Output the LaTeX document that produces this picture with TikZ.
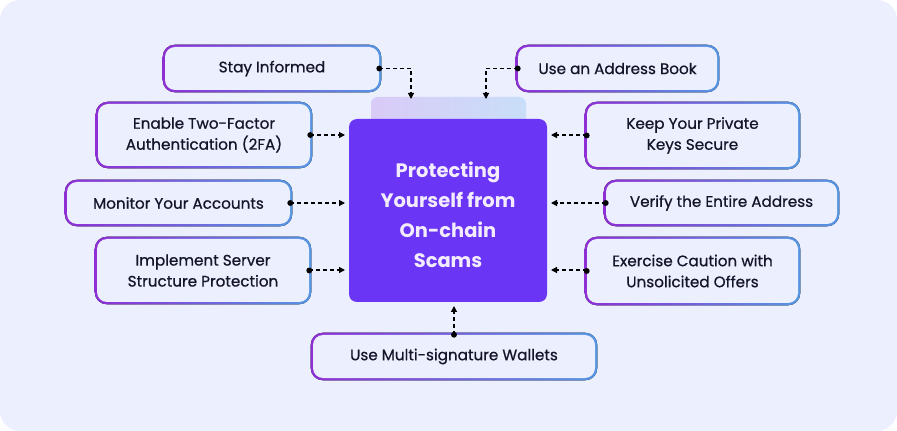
\documentclass[tikz,border=0pt]{standalone}
\usepackage{fontspec}
\setmainfont{Poppins}[FakeBold=0.7]
\newfontfamily\corefont{Poppins}
\usetikzlibrary{arrows.meta,backgrounds}
\definecolor{bg}{HTML}{ECEFFD}
\definecolor{txt}{HTML}{14142A}
\definecolor{core}{HTML}{6A35F4}
\definecolor{gp}{HTML}{8E2FD6}
\definecolor{gb}{HTML}{5596E2}
\definecolor{tabl}{HTML}{D9CBF7}
\definecolor{tabr}{HTML}{C9DEF8}
\definecolor{coretxt}{HTML}{F3ECFF}
\newcommand\gframe[1]{\fill[left color=gp,right color=gb,rounded corners=9pt] ([shift={(-1.5pt,-1.5pt)}]#1.south west) rectangle ([shift={(1.5pt,1.5pt)}]#1.north east);}
\begin{document}
\begin{tikzpicture}[x=0.75pt,y=-0.75pt,
  item/.style={fill=bg,rounded corners=7.5pt,align=center,text=txt,
    font=\fontsize{11.4}{15.75}\selectfont,inner sep=0pt},
  conn/.style={line width=0.9pt,dash pattern=on 3pt off 2.2pt,-{Triangle[length=4.5pt,width=4.5pt]}},
  dot/.style={fill=black}]
\useasboundingbox (0,0) rectangle (897,431);
% tab behind core
\node[rounded corners=5pt,left color=tabl,right color=tabr,minimum width=116.25pt,minimum height=30pt,inner sep=0pt] (tab) at (448.5,117) {};
\node[fill=core,rounded corners=6pt,minimum width=148.5pt,minimum height=137.25pt,inner sep=0pt] (core) at (448,210.5) {};
\node[align=center,text=coretxt,inner sep=0pt,font=\corefont\fontsize{14.6}{22.5}\selectfont\bfseries] (coretext) at (448,215) {Protecting\\Yourself from\\On-chain\\Scams};
% items
\node[item,minimum width=160.5pt,minimum height=32.25pt] (si) at (272,68.5) {Stay Informed};
\node[item,minimum width=149.25pt,minimum height=32.25pt] (ab) at (617.5,68.5) {Use an Address Book};
\node[item,minimum width=159pt,minimum height=46.5pt] (tf) at (204,135) {Enable Two-Factor\\Authentication (2FA)};
\node[item,minimum width=158.25pt,minimum height=47.25pt] (kp) at (692.5,135.5) {Keep Your Private\\Keys Secure};
\node[item,minimum width=167.25pt,minimum height=31.5pt] (ma) at (178.5,203) {Monitor Your Accounts};
\node[item,minimum width=173.25pt,minimum height=31.5pt] (va) at (721.5,203) {Verify the Entire Address};
\node[item,minimum width=159pt,minimum height=47.25pt] (is) at (203,270.5) {Implement Server\\Structure Protection};
\node[item,minimum width=158.25pt,minimum height=48pt] (ec) at (692.5,271) {Exercise Caution with\\Unsolicited Offers};
\node[item,minimum width=211.5pt,minimum height=32.25pt] (mw) at (454,356.5) {Use Multi-signature Wallets};
% connector targets
\coordinate (t1) at (411,99);
\coordinate (t2) at (486,99);
\coordinate (l1) at (345,135);
\coordinate (l2) at (345,203);
\coordinate (l3) at (345,270);
\coordinate (r1) at (551,135);
\coordinate (r2) at (551,203);
\coordinate (r3) at (551,270);
\coordinate (b1) at (454,306);
\draw[conn] (si.east) -| (t1);
\draw[conn] (ab.west) -| (t2);
\draw[conn] (tf.east |- l1) -- (l1);
\draw[conn] (ma.east |- l2) -- (l2);
\draw[conn] (is.east |- l3) -- (l3);
\draw[conn] (kp.west |- r1) -- (r1);
\draw[conn] (va.west |- r2) -- (r2);
\draw[conn] (ec.west |- r3) -- (r3);
\draw[conn] (mw.north -| b1) -- (b1);
\foreach \p in {si.east,ab.west,tf.east,ma.east,is.east,kp.west,va.west,ec.west,mw.north}
  \fill[dot] (\p) circle (2.2pt);
\begin{scope}[on background layer]
  \fill[white] (0,0) rectangle (897,431);
  \fill[bg,rounded corners=15pt] (0,0) rectangle (897,431);
  \foreach \n in {si,ab,tf,kp,ma,va,is,ec,mw} {\gframe{\n}}
\end{scope}
\end{tikzpicture}
\end{document}
